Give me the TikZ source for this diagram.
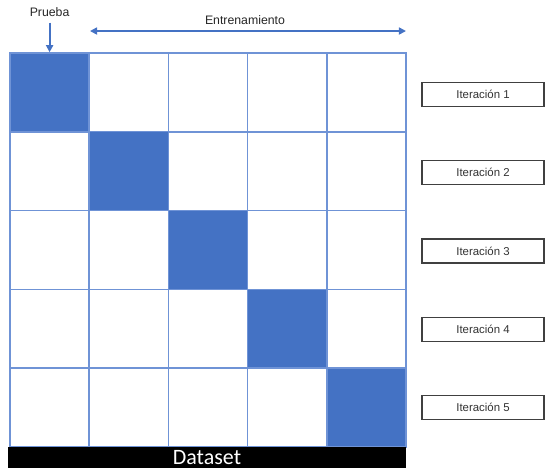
\documentclass[tikz,border=0pt]{standalone}
\usepackage{fontspec}
\setmainfont{Liberation Sans}
\newfontfamily\dsfont{Carlito}
\usetikzlibrary{arrows.meta,positioning}
\definecolor{cvblue}{HTML}{4472C4}
\definecolor{gridblue}{HTML}{6F93D6}

\begin{document}
\begin{tikzpicture}[x=0.02cm, y=-0.02cm]

\def\csize{1.58cm}
\def\cx{79.2}
\def\cy{78.8}

\tikzset{
  cellbox/.style={draw=gridblue, line width=0.8pt, minimum width=\csize, minimum height=\csize, inner sep=0pt},
  testbox/.style={cellbox, fill=cvblue},
  iterbox/.style={draw=black!75, line width=0.6pt, minimum width=2.44cm, minimum height=0.48cm,
    inner sep=0pt, font=\fontsize{6.5}{7}\selectfont, text=black!80},
  toplabel/.style={font=\fontsize{7}{8}\selectfont, text=black!85},
  bluearrow/.style={draw=cvblue, -{Triangle[length=4pt,width=4pt]}}
}

\useasboundingbox (0,0) rectangle (545,468);

% ---------- siatka 5x5 ----------
\foreach \r in {1,...,5} {
  \foreach \c in {1,...,5} {
    \ifnum\r=\c
      \node[testbox] (cell-\r-\c) at ({10+\cx*(\c-0.5)}, {53+\cy*(\r-0.5)}) {};
    \else
      \node[cellbox] (cell-\r-\c) at ({10+\cx*(\c-0.5)}, {53+\cy*(\r-0.5)}) {};
    \fi
  }
}

% ---------- pasek dataset ----------
\node[fill=black, text=white, minimum width=7.96cm, minimum height=0.42cm, inner sep=0pt,
  font=\dsfont\fontsize{12.5}{13}\selectfont] (dataset) at (207, 457.5) {Dataset};

% ---------- etykiety iteracji ----------
\foreach \i in {1,...,5} {
  \node[iterbox] (iter-\i) at (483, {94.5+78.25*(\i-1)}) {Iteración \i};
}

% ---------- strzałki na górze ----------
\node[toplabel] (prueba) at (49.6, 12) {Prueba};
\draw[bluearrow, line width=1.2pt] (prueba.south) -- (cell-1-1.north);

\node[toplabel] (entren) at (245, 20) {Entrenamiento};
\coordinate (entL) at (90, 31);
\coordinate (entR) at (406, 31);
\draw[bluearrow, line width=0.9pt, {Triangle[length=4pt,width=4pt]}-{Triangle[length=4pt,width=4pt]}] (entL) -- (entR);

\end{tikzpicture}
\end{document}
